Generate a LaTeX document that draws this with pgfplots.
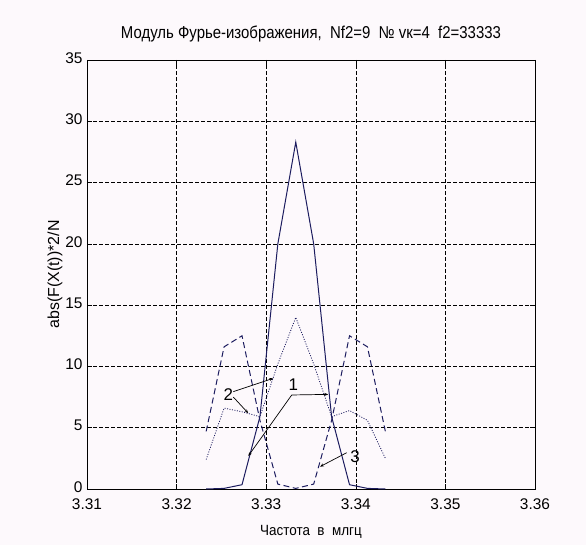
\documentclass[border=0pt]{standalone}
\usepackage{fontspec}
\setmainfont{Liberation Sans}
\usepackage{pgfplots}
\pgfplotsset{compat=1.18}
\usetikzlibrary{arrows.meta}
\definecolor{ln}{RGB}{28,28,95}
\definecolor{bg}{RGB}{253,249,252}
\begin{document}
\begin{tikzpicture}
\fill[bg] (-87bp,-56bp) rectangle (499bp,489bp);
\begin{axis}[
  at={(0,0)}, anchor=south west,
  scale only axis, width=448bp, height=429bp,
  xmin=3.31, xmax=3.36, ymin=0, ymax=35,
  xtick={3.31,3.32,3.33,3.34,3.35,3.36},
  xticklabels={3.31,3.32,3.33,3.34,3.35,3.36},
  ytick={0,5,10,15,20,25,30,35},
  grid=major,
  major grid style={black, dash pattern=on 3.5bp off 2.5bp, line width=0.6pt},
  tick align=inside,
  xtick pos=both, ytick pos=both,
  major tick length=5bp,
  tick style={black, line width=0.6pt},
  axis line style={black, line width=0.8pt},
  font=\fontsize{15.5}{17}\selectfont,
  xticklabel style={yshift=-6bp},
  yticklabel style={xshift=-1bp, yshift=2bp},
  /pgf/number format/assume math mode=true,
  title={\scalebox{1}[1.15]{Модуль Фурье-изображения,\ \ Nf2=9\ \ № vк=4\ \ f2=33333}},
  title style={at={(axis description cs:0.5,1.047)}, anchor=center, yshift=0pt, font=\fontsize{15}{17}\selectfont},
  xlabel={\scalebox{1}[1.1]{Частота\ \ в\ \ млгц}},
  xlabel style={at={(axis description cs:0.5,-0.1)}, anchor=center, yshift=0pt, font=\fontsize{13.5}{16}\selectfont},
  ylabel={abs(F(X(t))*2/N},
  ylabel style={at={(axis description cs:-0.0714,0.5)}, anchor=center, font=\fontsize{16}{18}\selectfont},
  clip=false,
]
% 1: solid
\addplot[ln, line width=1pt] coordinates {
 (3.3233,0) (3.3253,0.05) (3.3273,0.35) (3.3293,5.9) (3.3313,20) (3.3333,28.3)
 (3.3353,20) (3.3373,5.9) (3.3393,0.35) (3.3413,0.05) (3.3433,0)};
% 2: dotted
\addplot[ln, line width=0.8pt, dash pattern=on 1bp off 1.5bp] coordinates {
 (3.3233,2.4) (3.3253,6.6) (3.3273,6.3) (3.3293,5.9) (3.3313,10.2) (3.3333,14.0)
 (3.3353,10.2) (3.3373,5.9) (3.3393,6.4) (3.3413,5.6) (3.3433,2.5)};
% 3: dashed
\addplot[ln, line width=1pt, dash pattern=on 6bp off 3.5bp] coordinates {
 (3.3233,4.7) (3.3253,11.6) (3.3273,12.5) (3.3293,5.6) (3.3313,0.4) (3.3333,0.05)
 (3.3353,0.4) (3.3373,5.6) (3.3393,12.5) (3.3413,11.6) (3.3433,4.7)};
% annotations
\node[font=\fontsize{17}{19}\selectfont] at (axis cs:3.33302,8.49) {1};
\draw[black, line width=0.7pt, -{Stealth[length=4bp,width=3bp]}] (axis cs:3.33285,7.67) -- (axis cs:3.33693,7.72);
\draw[black, line width=0.7pt, -{Stealth[length=4bp,width=3bp]}] (axis cs:3.33285,7.67) -- (axis cs:3.32800,2.69);
\node[font=\fontsize{17}{19}\selectfont] at (axis cs:3.32577,7.67) {2};
\draw[black, line width=0.7pt, -{Stealth[length=4bp,width=3bp]}] (axis cs:3.32633,7.94) -- (axis cs:3.33079,9.03);
\draw[black, line width=0.7pt, -{Stealth[length=4bp,width=3bp]}] (axis cs:3.32633,7.50) -- (axis cs:3.32800,6.18);
\node[font=\fontsize{17}{19}\selectfont] at (axis cs:3.33991,2.64) {3};
\draw[black, line width=0.7pt, -{Stealth[length=4bp,width=3bp]}] (axis cs:3.33898,2.96) -- (axis cs:3.33600,1.82);
\end{axis}
\pgfresetboundingbox
\path[use as bounding box] (-87bp,-56bp) rectangle (499bp,489bp);
\end{tikzpicture}
\end{document}
